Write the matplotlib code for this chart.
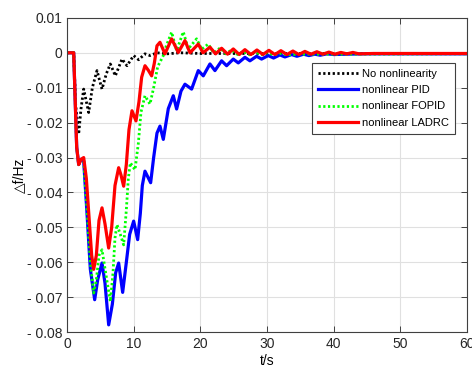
import numpy as np
import matplotlib.pyplot as plt

plt.rcParams['font.family'] = ['Liberation Sans', 'DejaVu Sans']

# no nonlinearity (black dotted)
t_ref = [0, 1.0, 1.3, 1.75, 2.1, 2.5, 2.9, 3.25, 3.8, 4.5, 4.9, 5.25, 5.9, 6.5,
         7.25, 8.25, 9.0, 10.0, 10.75, 11.7, 12.45, 13.5, 15, 17, 20, 25, 30, 60]
f_ref = [0, 0, -0.015, -0.0233, -0.016, -0.0104, -0.014, -0.0171, -0.010, -0.0051,
         -0.008, -0.0104, -0.006, -0.0032, -0.0066, -0.0018, -0.0037, -0.0008,
         -0.002, -0.0003, -0.0008, 0.0, -0.0003, 0.0, -0.0002, -0.0002, -0.0002, -0.0002]

# nonlinear PID (blue)
t_pid = [0, 1.0, 1.2, 1.45, 1.75, 2.1, 2.5, 3.0, 3.5, 4.15, 4.6, 5.25, 5.7, 6.25,
         6.8, 7.3, 7.75, 8.35, 8.9, 9.4, 10.0, 10.6, 11.0, 11.3, 11.7, 12.55, 13.0,
         13.5, 13.95, 14.45, 15.2, 15.95, 16.45, 17.1, 17.7, 18.7, 19.7, 20.45,
         21.45, 22.2, 23.2, 23.95, 24.95, 25.7, 26.7, 27.45, 28.45, 29.2, 30.2,
         31.0, 31.95, 32.7, 33.7, 34.5, 35.5, 36.3, 37.2, 38.0, 39.0, 40.0, 42.0,
         45.0, 60.0]
f_pid = [0, 0, -0.012, -0.027, -0.032, -0.0305, -0.031, -0.046, -0.062, -0.0707,
         -0.065, -0.0602, -0.066, -0.0779, -0.072, -0.063, -0.0602, -0.0686, -0.060,
         -0.052, -0.0482, -0.0535, -0.046, -0.038, -0.0339, -0.0372, -0.030, -0.023,
         -0.021, -0.0248, -0.016, -0.0123, -0.0161, -0.011, -0.009, -0.0104, -0.0051,
         -0.0066, -0.0032, -0.0051, -0.0023, -0.0037, -0.0018, -0.0029, -0.0013,
         -0.0023, -0.0010, -0.0018, -0.0008, -0.0015, -0.0006, -0.0012, -0.0005,
         -0.0010, -0.0004, -0.0008, -0.0004, -0.0007, -0.0003, -0.0005, -0.0004,
         -0.0003, -0.0003]

# nonlinear FOPID (green dotted)
t_fopid = [0, 1.0, 1.2, 1.45, 1.75, 2.1, 2.5, 3.0, 3.5, 4.0, 4.4, 4.8, 5.25, 5.8,
           6.5, 6.9, 7.2, 7.5, 8.0, 8.5, 8.9, 9.2, 9.5, 10.2, 10.7, 11.1, 11.7,
           12.45, 13.0, 13.6, 14.45, 14.9, 15.7, 16.45, 17.45, 18.2, 19.45, 20.2,
           21.2, 22.0, 23.0, 23.8, 24.7, 25.6, 26.5, 27.4, 28.3, 29.2, 30.1, 31.0,
           32.0, 33.0, 35.0, 40.0, 60.0]
f_fopid = [0, 0, -0.012, -0.027, -0.032, -0.0305, -0.031, -0.045, -0.060, -0.0688,
           -0.065, -0.058, -0.0564, -0.063, -0.0712, -0.063, -0.053, -0.0492,
           -0.052, -0.055, -0.045, -0.036, -0.0315, -0.0335, -0.026, -0.017,
           -0.0123, -0.0147, -0.010, -0.004, -0.0008, 0.002, 0.0059, 0.0006, 0.006,
           0.0011, 0.004, 0.001, 0.0025, 0.0, 0.0014, -0.0003, 0.0008, -0.0005,
           0.0004, -0.0006, 0.0002, -0.0006, 0.0, -0.0006, -0.0002, -0.0006,
           -0.0004, -0.0004, -0.0003]

# nonlinear LADRC (red)
t_ladrc = [0, 1.0, 1.2, 1.45, 1.75, 2.1, 2.5, 2.9, 3.3, 3.7, 4.0, 4.4, 4.8, 5.25,
           5.7, 6.25, 6.7, 7.2, 7.75, 8.1, 8.5, 8.9, 9.3, 9.75, 10.35, 10.8, 11.2,
           11.7, 12.2, 12.7, 13.1, 13.5, 13.95, 14.7, 15.7, 16.7, 17.7, 18.45,
           19.7, 20.4, 21.45, 22.3, 23.2, 24.1, 24.95, 25.85, 26.7, 27.6, 28.5,
           29.4, 30.3, 31.2, 32.1, 33.0, 33.9, 34.8, 35.7, 36.6, 37.5, 38.4, 39.3,
           40.2, 41.1, 42.0, 42.9, 43.8, 46.0, 60.0]
f_ladrc = [0, 0, -0.012, -0.027, -0.032, -0.0305, -0.030, -0.036, -0.047, -0.058,
           -0.062, -0.058, -0.048, -0.0444, -0.049, -0.0559, -0.050, -0.038,
           -0.0329, -0.035, -0.0382, -0.032, -0.022, -0.0166, -0.0195, -0.014,
           -0.007, -0.0037, -0.005, -0.0066, -0.003, 0.002, 0.003, -0.0003, 0.004,
           0.0001, 0.0035, 0.0, 0.0025, 0.0, 0.0016, -0.0003, 0.0013, -0.0004,
           0.0011, -0.0005, 0.0009, -0.0005, 0.0008, -0.0005, 0.0007, -0.0005,
           0.0006, -0.0005, 0.0005, -0.0005, 0.0004, -0.0004, 0.0003, -0.0004,
           0.0002, -0.0004, 0.0001, -0.0003, 0.0001, -0.0003, -0.0002, -0.0002]

x_ticks = [0, 10, 20, 30, 40, 50, 60]
y_ticks = [-0.08, -0.07, -0.06, -0.05, -0.04, -0.03, -0.02, -0.01, 0, 0.01]
y_labels = ['- 0.08', '- 0.07', '- 0.06', '- 0.05', '- 0.04', '- 0.03',
            '- 0.02', '- 0.01', '0', '0.01']

fig = plt.figure(figsize=(4.72, 3.72), dpi=100)
ax = fig.add_axes([0.142, 0.107, 0.847, 0.845])

dots = (0, (0.8, 0.9))
ax.plot(t_ref, f_ref, color='black', linestyle=dots, linewidth=2.0,
        solid_joinstyle='round', label='No nonlinearity')
ax.plot(t_pid, f_pid, color='#0000ff', linewidth=2.3, solid_joinstyle='round',
        label='nonlinear PID')
ax.plot(t_fopid, f_fopid, color='#00ff00', linestyle=dots, linewidth=2.0,
        label='nonlinear FOPID')
ax.plot(t_ladrc, f_ladrc, color='#ff0000', linewidth=2.3, solid_joinstyle='round',
        label='nonlinear LADRC')

ax.set_xlim(0, 60)
ax.set_ylim(-0.08, 0.01)
ax.set_xticks(x_ticks)
ax.set_yticks(y_ticks)
ax.set_yticklabels(y_labels)
ax.tick_params(direction='in', top=True, right=True, labelsize=10,
               colors='#262626', length=4, width=0.6)
ax.grid(True, color='#e0e0e0', linewidth=0.8)
ax.set_axisbelow(True)
for s in ax.spines.values():
    s.set_color('#404040')
    s.set_linewidth(0.8)

ax.set_xlabel('t/s', fontsize=10, labelpad=2)
ax.set_ylabel('△f/Hz', fontsize=10, labelpad=0)

leg = ax.legend(loc='upper right', bbox_to_anchor=(0.97, 0.856), fontsize=8,
                handlelength=3.6, handletextpad=0.3, borderpad=0.55,
                labelspacing=0.55, fancybox=False, framealpha=1, borderaxespad=0)
leg.get_frame().set_edgecolor('#404040')
leg.get_frame().set_linewidth(0.8)

fig.savefig('out.png', dpi=100)
